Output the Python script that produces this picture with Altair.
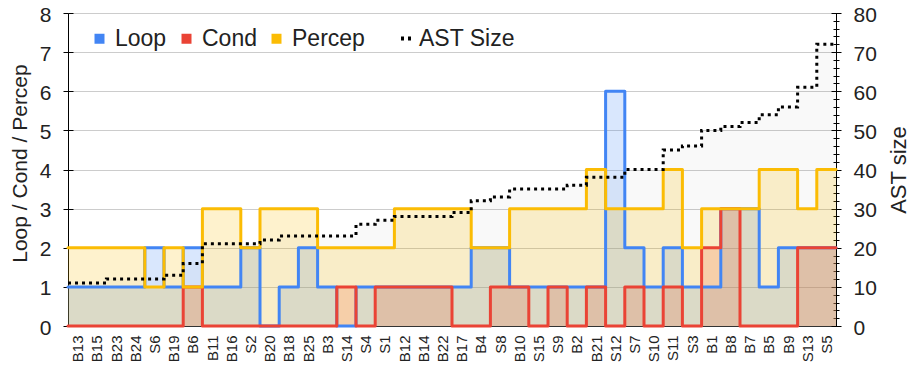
import altair as alt
import pandas as pd

categories = ["B13", "B15", "B23", "B24", "S6", "B19", "B6", "B11", "B16", "S2",
              "B20", "B18", "B25", "B3", "S14", "S4", "S1", "B12", "B14", "B22",
              "B17", "B4", "S8", "B10", "S15", "S9", "B2", "B21", "S12", "S7",
              "S10", "S11", "S3", "B1", "B8", "B7", "B5", "B9", "S13", "S5"]
loop = [1, 1, 1, 1, 2, 1, 2, 1, 1, 2, 0, 1, 2, 1, 0, 1, 1, 1, 1, 1,
        1, 2, 2, 1, 1, 1, 1, 1, 6, 2, 1, 2, 1, 1, 3, 3, 1, 2, 2, 2]
cond = [0, 0, 0, 0, 0, 0, 1, 0, 0, 0, 0, 0, 0, 0, 1, 0, 1, 1, 1, 1,
        0, 0, 1, 1, 0, 1, 0, 1, 0, 1, 0, 1, 0, 2, 3, 0, 0, 0, 2, 2]
percep = [2, 2, 2, 2, 1, 2, 1, 3, 3, 2, 3, 3, 3, 2, 2, 2, 2, 3, 3, 3,
          3, 2, 2, 3, 3, 3, 3, 4, 3, 3, 3, 4, 2, 3, 3, 3, 4, 4, 3, 4]
ast_size = [11, 11, 12, 12, 12, 13, 16, 21, 21, 21, 22, 23, 23, 23, 23, 26, 27, 28, 28, 28,
            29, 32, 33, 35, 35, 35, 36, 38, 38, 40, 40, 45, 46, 50, 51, 52, 54, 56, 61, 72]

series_names = ["Loop", "Cond", "Percep"]
series_colors = ["#4285F4", "#EA4335", "#FBBC04"]
left_ticks = [0, 1, 2, 3, 4, 5, 6, 7, 8]
right_major = [0, 10, 20, 30, 40, 50, 60, 70, 80]
right_minor = list(range(0, 81, 2))

FONT = "Liberation Sans"
TXT = "#222222"
n = len(categories)

rows = []
for name, vals in zip(series_names, [loop, cond, percep]):
    for i, v in enumerate(vals + vals[-1:]):
        rows.append({"idx": i, "value": v, "series": name})
df = pd.DataFrame(rows)
ast_df = pd.DataFrame({"idx": list(range(n + 1)),
                       "value": ast_size + ast_size[-1:],
                       "series": ["AST Size"] * (n + 1)})

label_js = "[" + ",".join("'%s'" % c for c in categories) + "]"
X = alt.X("idx:Q",
          scale=alt.Scale(domain=[0, n], nice=False, zero=False),
          axis=alt.Axis(values=[i + 0.5 for i in range(n)],
                        labelExpr=label_js + "[floor(datum.value)]",
                        labelAngle=270, labelAlign="right", labelBaseline="middle",
                        labelFont=FONT, labelFontSize=15, labelColor=TXT,
                        labelPadding=9, labelOverlap=False, ticks=False,
                        domain=True, domainColor="#333333", grid=False,
                        title=None, zindex=0))

yL_scale = alt.Scale(domain=[0, 8], nice=False, zero=True)
yR_scale = alt.Scale(domain=[0, 80], nice=False, zero=True)

left_axis = alt.Axis(orient="left", values=left_ticks, format="d",
                     title="Loop / Cond / Percep", titleFont=FONT, titleFontSize=21,
                     titleFontWeight="normal", titleColor=TXT, titleX=-38, titleY=150,
                     titleBaseline="bottom",
                     labelFont=FONT, labelFontSize=21, labelColor=TXT, labelPadding=12,
                     labelOffset=2,
                     tickSize=5, tickColor="black", domainColor="black",
                     grid=True, gridColor="#cccccc", gridWidth=1)

fill_scale = alt.Scale(domain=series_names, range=series_colors)
fill_legend = alt.Legend(orient="none", legendX=20, legendY=14, direction="horizontal",
                         title=None, symbolType="square", symbolSize=100,
                         symbolOpacity=1, symbolStrokeWidth=0,
                         labelFont=FONT, labelFontSize=23, labelColor=TXT,
                         labelOffset=4, columnPadding=8, padding=0)

areas = []
lines = []
for name in series_names:
    areas.append(
        alt.Chart(df).transform_filter(alt.datum.series == name)
        .mark_area(interpolate="step-after", fillOpacity=0.2, strokeWidth=0)
        .encode(x=X,
                y=alt.Y("value:Q", stack=None, scale=yL_scale, axis=left_axis),
                fill=alt.Fill("series:N", scale=fill_scale, legend=fill_legend))
    )
    lines.append(
        alt.Chart(df).transform_filter(alt.datum.series == name)
        .mark_line(interpolate="step-after", strokeWidth=3, strokeJoin="round", strokeCap="round")
        .encode(x=X,
                y=alt.Y("value:Q", stack=None, scale=yL_scale, axis=left_axis),
                stroke=alt.Stroke("series:N", scale=fill_scale, legend=None))
    )
left_group = alt.layer(*areas, *lines)

left_inner_ticks = alt.Chart(pd.DataFrame({"t": left_ticks})).mark_rule(opacity=0).encode(
    y=alt.Y("t:Q", scale=yL_scale,
            axis=alt.Axis(orient="left", values=left_ticks, offset=-5, tickSize=5,
                          tickColor="black", labels=False, domain=False, grid=False,
                          title=None)))

ast_area = alt.Chart(ast_df).mark_area(
    interpolate="step-after", color="black", fillOpacity=0.025, strokeWidth=0
).encode(
    x=X,
    y=alt.Y("value:Q", stack=None, scale=yR_scale,
            axis=alt.Axis(orient="right", values=right_minor, offset=-3, tickSize=6,
                          tickColor="black", labels=False, domain=False, grid=False,
                          title=None)))

ast_line = alt.Chart(ast_df).mark_line(
    interpolate="step-after", color="black", strokeWidth=3, strokeCap="butt"
).encode(
    x=X,
    y=alt.Y("value:Q", stack=None, scale=yR_scale,
            axis=alt.Axis(orient="right", values=right_major, format="d",
                          title="AST size", titleFont=FONT, titleFontSize=22,
                          titleFontWeight="normal", titleColor=TXT, titleAngle=270,
                          titleBaseline="top", titlePadding=12,
                          labelFont=FONT, labelFontSize=21, labelColor=TXT,
                          labelPadding=12, labelOffset=2, tickSize=5, tickColor="black",
                          domainColor="black", grid=False)),
    strokeDash=alt.StrokeDash("series:N",
                              scale=alt.Scale(domain=["AST Size"], range=[[3, 4]]),
                              legend=alt.Legend(orient="none", legendX=328, legendY=14,
                                                title=None, symbolType="stroke",
                                                symbolStrokeColor="black",
                                                symbolStrokeWidth=4, symbolSize=169,
                                                labelFont=FONT, labelFontSize=23,
                                                labelColor=TXT, labelOffset=0,
                                                padding=0)))

right_inner_ticks = alt.Chart(pd.DataFrame({"t": right_major})).mark_rule(opacity=0).encode(
    y=alt.Y("t:Q", scale=yR_scale,
            axis=alt.Axis(orient="right", values=right_major, offset=-5, tickSize=5,
                          tickColor="black", labels=False, domain=False, grid=False,
                          title=None)))

chart = alt.layer(
    ast_area, left_group, left_inner_ticks, ast_line, right_inner_ticks
).resolve_scale(
    y="independent"
).properties(
    width=768, height=313,
    autosize=alt.AutoSizeParams(type="none"),
    padding={"left": 60, "top": 5, "right": 75, "bottom": 39}
).configure_view(stroke=None).configure(background="white")

chart.save("out.html", embed_options={"renderer": "svg", "actions": False})
